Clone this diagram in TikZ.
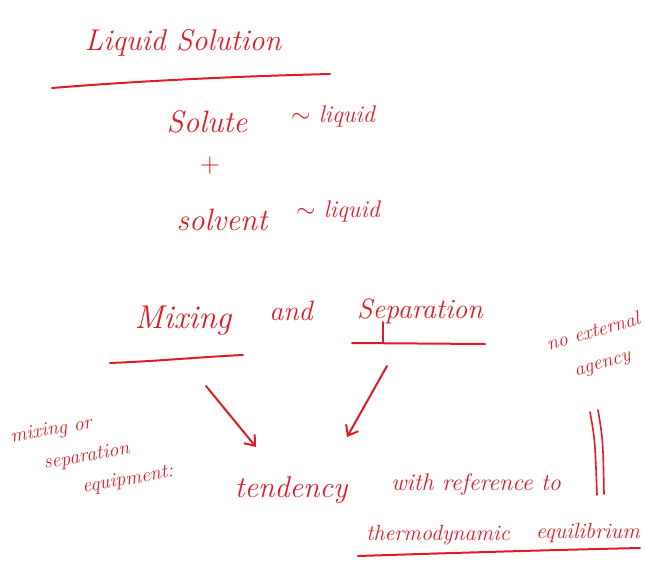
\documentclass[tikz,border=0pt]{standalone}
\usetikzlibrary{arrows.meta}
\definecolor{ink}{RGB}{222,28,38}
\begin{document}
\begin{tikzpicture}[x=1pt,y=-1pt,
  hand/.style={text=ink,font=\itshape,inner sep=0pt,anchor=base},
  note/.style={text=ink,inner sep=0pt,font=\itshape\fontsize{20}{30}\selectfont},
  pen/.style={draw=ink,line width=2pt,line cap=round},
  arr/.style={pen,-{Straight Barb[length=9pt,width=14pt,line width=2pt]}}]
\useasboundingbox (0,0) rectangle (645,563);
% title
\node[hand,font=\itshape\fontsize{30}{32}\selectfont] (title) at (183,50) {Liquid Solution};
\draw[pen] (52,88) .. controls (150,80) and (250,76) .. (330,74);
% composition
\node[hand,font=\itshape\fontsize{31}{33}\selectfont] (solute) at (207,132) {Solute};
\node[hand,font=\itshape\fontsize{24}{26}\selectfont] (liq1) at (333,122) {$\sim$ liquid};
\node[hand,font=\fontsize{28}{30}\selectfont,text=ink] (plus) at (210,172) {+};
\node[hand,font=\itshape\fontsize{31}{33}\selectfont] (solvent) at (222,230) {solvent};
\node[hand,font=\itshape\fontsize{24}{26}\selectfont] (liq2) at (338,217) {$\sim$ liquid};
% mixing and separation
\node[hand,font=\itshape\fontsize{33}{35}\selectfont] (mixing) at (183,328) {Mixing};
\node[hand,font=\itshape\fontsize{28}{30}\selectfont] (and) at (291,320) {and};
\node[hand,font=\itshape\fontsize{28}{30}\selectfont] (separation) at (420,318) {Separation};
\coordinate (mixL) at (110,363);
\coordinate (mixR) at (243,355);
\coordinate (sepL) at (352,343);
\coordinate (sepR) at (485,344);
\draw[pen] (mixL) .. controls (160,361) and (200,357) .. (mixR);
\draw[pen] (sepL) -- (sepR);
\draw[pen] (383,322) -- (383,343);
% arrows
\coordinate (a1s) at (206,386);
\coordinate (a1e) at (256,447);
\coordinate (a2s) at (387,366);
\coordinate (a2e) at (347,437);
\draw[arr] (a1s) -- (a1e);
\draw[arr] (a2s) -- (a2e);
% left note
\node[note,align=left,rotate=10] (equip) at (92,455)
  {mixing or\\[2pt]\hspace*{28pt}separation\\[0pt]\hspace*{62pt}equipment:};
% tendency line
\node[hand,font=\itshape\fontsize{30}{32}\selectfont] (tendency) at (291,497) {tendency};
\node[hand,font=\itshape\fontsize{24}{26}\selectfont] (withref) at (476,490) {with reference to};
% right note
\node[note,align=center,rotate=16] (agency) at (598,348) {no external\\[2pt]agency};
\coordinate (d1t) at (590,412);
\coordinate (d1b) at (597,495);
\coordinate (d2t) at (598,410);
\coordinate (d2b) at (604,494);
\draw[draw=ink,line width=1.6pt,line cap=round] (d1t) .. controls (595,440) .. (d1b);
\draw[draw=ink,line width=1.6pt,line cap=round] (d2t) .. controls (603,440) .. (d2b);
% thermodynamic equilibrium
\node[hand,font=\itshape\fontsize{22}{24}\selectfont] (thermo) at (438,540) {thermodynamic};
\node[hand,font=\itshape\fontsize{22}{24}\selectfont] (equil) at (588,538) {equilibrium};
\coordinate (tL) at (358,556);
\coordinate (tR) at (640,548);
\draw[pen] (tL) .. controls (450,553) and (550,550) .. (tR);
\end{tikzpicture}
\end{document}
